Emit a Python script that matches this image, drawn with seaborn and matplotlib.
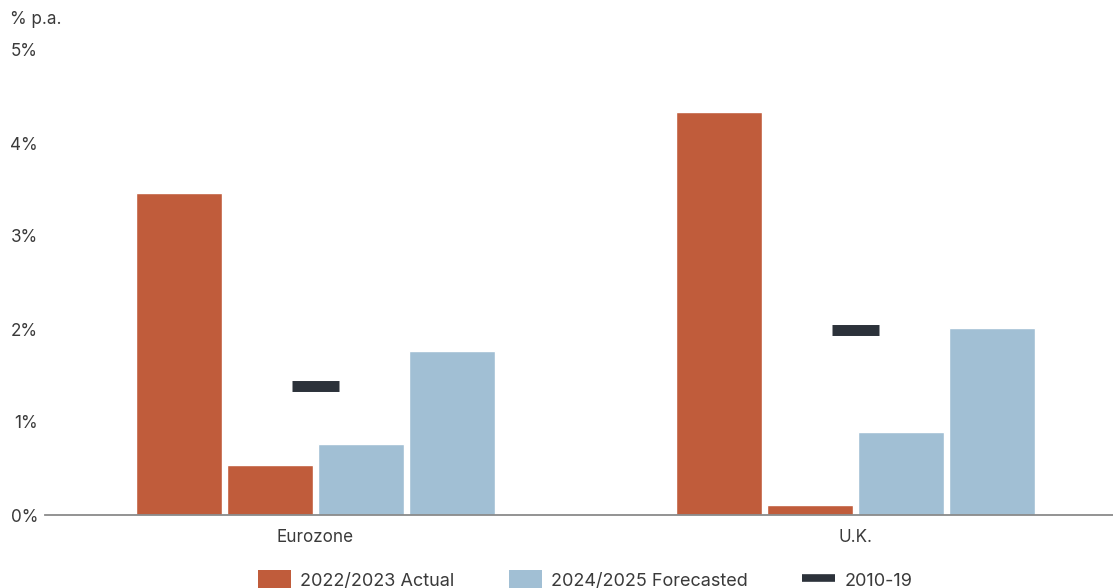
import numpy as np
import pandas as pd
import matplotlib
matplotlib.use("Agg")
import matplotlib.pyplot as plt
from matplotlib.patches import Patch
from matplotlib.lines import Line2D
import seaborn as sns

# ---- data ----
regions = ["Eurozone", "U.K."]
years = ["2022", "2023", "2024", "2025"]
val_2022 = [3.46, 4.33]
val_2023 = [0.54, 0.11]
val_2024 = [0.76, 0.89]
val_2025 = [1.76, 2.01]
avg_2010_19 = [1.39, 1.99]
y_ticks = [0, 1, 2, 3, 4, 5]
legend_labels = ["2022/2023 Actual", "2024/2025 Forecasted", "2010-19"]

ORANGE = "#C05C3B"
BLUE = "#A1BFD4"
DARK = "#2C323A"
TEXT = "#3a3a3a"

rows = []
for yr, vals in zip(years, [val_2022, val_2023, val_2024, val_2025]):
    for r, v in zip(regions, vals):
        rows.append({"region": r, "year": yr, "value": v})
df = pd.DataFrame(rows)
palette = {"2022": ORANGE, "2023": ORANGE, "2024": BLUE, "2025": BLUE}

sns.set_theme(style="white")
plt.rcParams["font.family"] = ["Inter", "DejaVu Sans"]

fig = plt.figure(figsize=(11.13, 5.88), dpi=100)
ax = fig.add_axes([45 / 1113, 73 / 588, 1 - 45 / 1113, 465 / 588])

sns.barplot(data=df, x="region", y="value", hue="year", order=regions,
            hue_order=years, palette=palette, saturation=1, width=0.674,
            gap=0.055, legend=False, ax=ax, errorbar=None)

xpos = np.arange(len(regions))
hw = 0.0435
ax.hlines(avg_2010_19, xpos - hw, xpos + hw, colors=DARK, linewidth=7.9,
          capstyle="butt", zorder=5)

ax.set_xlim(-0.501, 1.477)
ax.set_ylim(0, 5)
ax.set_yticks(y_ticks)
ax.set_yticklabels([f"{t}%" for t in y_ticks])
ax.set_xlabel("")
ax.set_ylabel("")
for s in ["top", "right", "left"]:
    ax.spines[s].set_visible(False)
ax.spines["bottom"].set_color("#8a8a8a")
ax.spines["bottom"].set_linewidth(1.3)
ax.spines["bottom"].set_zorder(6)
ax.tick_params(axis="y", length=0, pad=5, labelsize=12.3, labelcolor=TEXT)
ax.tick_params(axis="x", length=0, pad=10, labelsize=12.3, labelcolor=TEXT)
ax.grid(False)

fig.text(10 / 1113, 1 - 20 / 588, "% p.a.", fontsize=12.3, color=TEXT,
         ha="left", va="center")

handles = [Patch(facecolor=ORANGE, edgecolor="none"),
           Patch(facecolor=BLUE, edgecolor="none"),
           Line2D([0], [0], color=DARK, linewidth=5.5, solid_capstyle="butt")]
fig.legend(handles, legend_labels, loc="center", bbox_to_anchor=(585 / 1113, 8 / 588),
           ncol=3, frameon=False, fontsize=13, handlelength=1.85,
           handleheight=1.2, handletextpad=0.5, columnspacing=3.0,
           labelcolor=TEXT)

fig.savefig("out.png", dpi=100)
